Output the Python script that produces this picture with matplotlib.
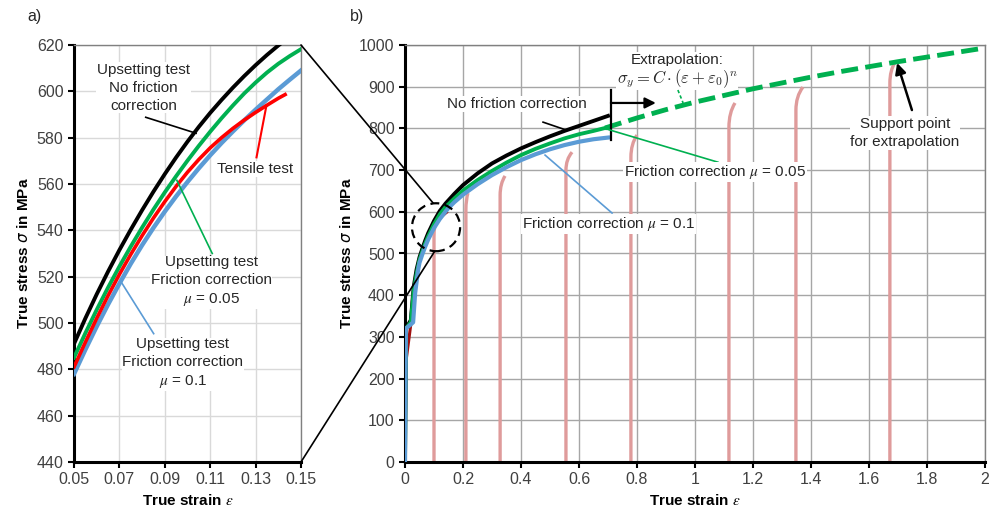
import matplotlib
matplotlib.use("Agg")
import matplotlib.pyplot as plt
from matplotlib.patches import Ellipse, ConnectionPatch, PathPatch
from matplotlib.path import Path
from matplotlib.ticker import FuncFormatter

plt.rcParams['font.family'] = ['Liberation Sans', 'DejaVu Sans']

# --- a) zoomed detail, strain 0.05 .. 0.15 ---
zoom_strain = [0.05, 0.055, 0.06, 0.065, 0.07, 0.075, 0.08, 0.085, 0.09, 0.095, 0.10,
               0.105, 0.11, 0.115, 0.12, 0.125, 0.13, 0.135, 0.14, 0.145, 0.15]
zoom_black = [491, 502, 512.4, 522.2, 531.5, 540.3, 548.7, 556.7, 564.3, 571.5, 578.3,
              584.7, 590.7, 596.3, 601.6, 606.6, 611.3, 615.7, 619.8, 623.6, 627.1]
zoom_green = [485, 495.6, 505.7, 515.3, 524.4, 533.0, 541.2, 549.0, 556.4, 563.4, 570.1,
              576.5, 582.6, 588.4, 593.9, 599.1, 603.8, 608.1, 611.9, 615.2, 618.2]
zoom_blue = [478, 488.5, 498.5, 508, 517, 525.6, 533.6, 541.1, 548.1, 554.7, 560.9,
             566.8, 572.4, 577.7, 582.7, 587.5, 592.1, 596.5, 600.9, 605.0, 609.0]
tensile_strain = [0.05, 0.055, 0.06, 0.065, 0.07, 0.075, 0.08, 0.085, 0.09, 0.095, 0.10,
                  0.105, 0.11, 0.115, 0.12, 0.125, 0.13, 0.135, 0.14, 0.143]
tensile_stress = [481, 491.7, 502, 511.8, 521, 529.6, 537.7, 545.3, 552.4, 559, 565.1,
                  570.6, 575.6, 580, 584, 587.6, 590.9, 594, 597, 598.6]

# --- b) full flow curves ---
black_strain = [0, 0.003, 0.02, 0.03, 0.04, 0.05, 0.06, 0.07, 0.08, 0.1, 0.12, 0.14, 0.17,
                0.2, 0.25, 0.3, 0.35, 0.4, 0.45, 0.5, 0.55, 0.6, 0.65, 0.7]
black_stress = [0, 320, 340, 420, 462, 491, 512, 531.5, 549, 578, 602, 620, 643,
                664, 692, 716, 735, 752, 767, 781, 794, 806, 818, 830]
green_strain = [0, 0.003, 0.02, 0.03, 0.04, 0.05, 0.06, 0.07, 0.08, 0.1, 0.12, 0.14, 0.15,
                0.17, 0.2, 0.25, 0.3, 0.35, 0.4, 0.45, 0.5, 0.55, 0.6, 0.65, 0.69]
green_stress = [0, 320, 335, 410, 452, 485, 505.7, 524.4, 541.2, 570.1, 593.9, 611.9, 618.2,
                632, 651, 676, 698, 718, 736, 751, 764, 776, 786, 794, 801]
blue_strain = [0, 0.003, 0.02, 0.028, 0.035, 0.045, 0.05, 0.06, 0.07, 0.08, 0.1, 0.12, 0.14,
               0.15, 0.17, 0.2, 0.25, 0.3, 0.35, 0.4, 0.45, 0.5, 0.55, 0.6, 0.65, 0.7]
blue_stress = [0, 320, 330, 335, 405, 460, 478, 498.5, 517, 533.6, 560.9, 582.7, 600.9,
               609, 623, 641, 666, 688, 707, 724, 738, 750, 760, 768, 774, 778]
tens_full_strain = [0, 0.003, 0.005, 0.02, 0.03, 0.04] + tensile_strain
tens_full_stress = [0, 170, 250, 330, 405, 450] + tensile_stress

extrap_strain = [0.69, 0.8, 0.9, 1.0, 1.2, 1.4, 1.5, 1.7, 1.8, 2.0]
extrap_stress = [801, 825, 845, 863, 895, 923, 936, 960, 971, 993]

# tensile tests of pre-upset specimens (pink)
pink_start = [0.1, 0.21, 0.328, 0.555, 0.779, 1.117, 1.348, 1.672]
pink_knee = [540, 605, 640, 700, 731, 803, 844, 909]
pink_end_strain = [0.108, 0.217, 0.345, 0.576, 0.80, 1.138, 1.372, 1.69]
pink_end_stress = [585, 645, 686, 743, 784, 861, 899, 959]

BLACK = '#000000'
GREEN = '#00b050'
BLUE = '#5b9bd5'
RED = '#ff0000'
PINK = '#df9b9b'
TXT = '#262626'
TICK = '#404040'

fig = plt.figure(figsize=(9.96, 5.11), dpi=100)
axL = fig.add_axes([74 / 996, 49 / 511, 227 / 996, 417 / 511])
axR = fig.add_axes([405 / 996, 49 / 511, 580 / 996, 417 / 511])


def style(ax, gridcol):
    ax.set_axisbelow(True)
    ax.grid(True, color=gridcol, lw=1)
    for s in ['left', 'bottom']:
        ax.spines[s].set_linewidth(2.2)
        ax.spines[s].set_color('black')
    for s in ['top', 'right']:
        ax.spines[s].set_linewidth(1)
        ax.spines[s].set_color('#808080')
    ax.tick_params(direction='out', length=4, width=1.5, labelsize=11.5,
                   labelcolor=TICK, top=False, right=False)
    ax.set_xlabel(r'True strain $\varepsilon$', fontsize=11, fontweight='bold',
                  math_fontfamily='stix', labelpad=4)
    ax.set_ylabel(r'True stress $\sigma$ in MPa', fontsize=11, fontweight='bold',
                  labelpad=4)


# ---------------- a) ----------------
style(axL, '#d9d9d9')
axL.set_xlim(0.05, 0.15)
axL.set_ylim(440, 620)
axL.set_xticks([0.05, 0.07, 0.09, 0.11, 0.13, 0.15])
axL.set_yticks(range(440, 621, 20))
axL.xaxis.set_major_formatter(FuncFormatter(lambda v, p: f'{v:.2f}'))
axL.plot(zoom_strain, zoom_black, color=BLACK, lw=2.8, zorder=3)
axL.plot(zoom_strain, zoom_green, color=GREEN, lw=2.8, zorder=3)
axL.plot(zoom_strain, zoom_blue, color=BLUE, lw=3.2, zorder=3)
axL.plot(tensile_strain, tensile_stress, color=RED, lw=2.6, zorder=4)

box = dict(facecolor='white', edgecolor='none', pad=0.5)
tk = dict(fontsize=11, color=TXT, ha='center', va='center', linespacing=1.35,
          math_fontfamily='stix', bbox=box, zorder=5)
axL.plot([0.0816, 0.1038], [588.8, 581.9], color=BLACK, lw=1.2, zorder=4)
axL.text(0.0807, 601.5, 'Upsetting test\nNo friction\ncorrection', **tk)
axL.plot([0.1304, 0.1348], [571.5, 594], color=RED, lw=1.5, zorder=4)
axL.text(0.1296, 566.5, 'Tensile test', **tk)
axL.plot([0.0953, 0.1109], [561.6, 530], color=GREEN, lw=1.2, zorder=4)
axL.text(0.1104, 518, 'Upsetting test\nFriction correction\n$\\mu$ = 0.05', **tk)
axL.plot([0.0851, 0.0704], [495.4, 518.3], color=BLUE, lw=1.2, zorder=4)
axL.text(0.098, 482.4, 'Upsetting test\nFriction correction\n$\\mu$ = 0.1', **tk)

# ---------------- b) ----------------
style(axR, '#a6a6a6')
axR.set_xlim(0, 2)
axR.set_ylim(0, 1000)
axR.set_xticks([0, 0.2, 0.4, 0.6, 0.8, 1, 1.2, 1.4, 1.6, 1.8, 2])
axR.set_yticks(range(0, 1001, 100))
axR.xaxis.set_major_formatter(FuncFormatter(lambda v, p: f'{v:g}'))

for s0, sk, se, te in zip(pink_start, pink_knee, pink_end_strain, pink_end_stress):
    ctrl = (s0, sk + 0.6 * (te - sk))
    path = Path([(s0, 0), (s0, sk), ctrl, (se, te)],
                [Path.MOVETO, Path.LINETO, Path.CURVE3, Path.CURVE3])
    axR.add_patch(PathPatch(path, facecolor='none', edgecolor=PINK, lw=2.4,
                            capstyle='butt', zorder=2))

axR.plot(tens_full_strain, tens_full_stress, color='#a01010', lw=2.2, zorder=3)
axR.plot(black_strain, black_stress, color=BLACK, lw=2.8, zorder=4)
axR.plot(green_strain, green_stress, color=GREEN, lw=2.8, zorder=4)
axR.plot(blue_strain, blue_stress, color=BLUE, lw=3.0, zorder=4)
axR.plot(extrap_strain, extrap_stress, color=GREEN, lw=3.5, dashes=(3.5, 1.5), zorder=4)

# zoom circle and connectors
axR.add_patch(Ellipse((0.107, 563), 0.166, 115, fill=False, edgecolor='black',
                      lw=1.6, linestyle=(0, (4, 2.5)), zorder=6))
for yA, pB in [(1, (0.097, 621)), (0, (0.103, 506))]:
    con = ConnectionPatch(xyA=(1, yA), coordsA=axL.transAxes, xyB=pB,
                          coordsB=axR.transData, color='black', lw=1.2, zorder=6)
    fig.add_artist(con)

# end of measured curve + extrapolation arrow
axR.plot([0.71, 0.71], [772, 892], color=BLACK, lw=1.6, zorder=5)
axR.annotate('', xy=(0.865, 861), xytext=(0.71, 861),
             arrowprops=dict(arrowstyle='-|>', color='black', lw=1.6,
                             mutation_scale=16, shrinkA=0, shrinkB=0), zorder=5)

axR.text(0.938, 964, 'Extrapolation:', **tk)
axR.text(0.938, 920, r'$\sigma_y = C \cdot (\varepsilon + \varepsilon_0)^n$',
         fontsize=12, color=TXT, ha='center', va='center',
         math_fontfamily='cm', bbox=box, zorder=5)
axR.plot([0.941, 0.959], [892, 861], color=GREEN, lw=1.2, ls=(0, (2, 1.5)), zorder=5)

axR.plot([0.476, 0.552], [815, 797], color=BLACK, lw=1.2, zorder=5)
axR.text(0.386, 858, 'No friction correction', **tk)

axR.plot([0.683, 1.079], [801, 719], color=GREEN, lw=1.2, zorder=5)
axR.text(1.069, 695, 'Friction correction $\\mu$ = 0.05', **tk)

axR.plot([0.483, 0.714], [736, 597], color=BLUE, lw=1.2, zorder=5)
axR.text(0.702, 571, 'Friction correction $\\mu$ = 0.1', **tk)

axR.text(1.724, 789, 'Support point\nfor extrapolation', **tk)
axR.annotate('', xy=(1.697, 957), xytext=(1.748, 844),
             arrowprops=dict(arrowstyle='-|>', color='black', lw=1.8,
                             mutation_scale=16, shrinkA=0, shrinkB=0), zorder=6)

fig.text(27 / 996, 1 - 17 / 511, 'a)', fontsize=11.5, color=TXT, va='center')
fig.text(350 / 996, 1 - 17 / 511, 'b)', fontsize=11.5, color=TXT, va='center')

fig.savefig('out.png', dpi=100)
